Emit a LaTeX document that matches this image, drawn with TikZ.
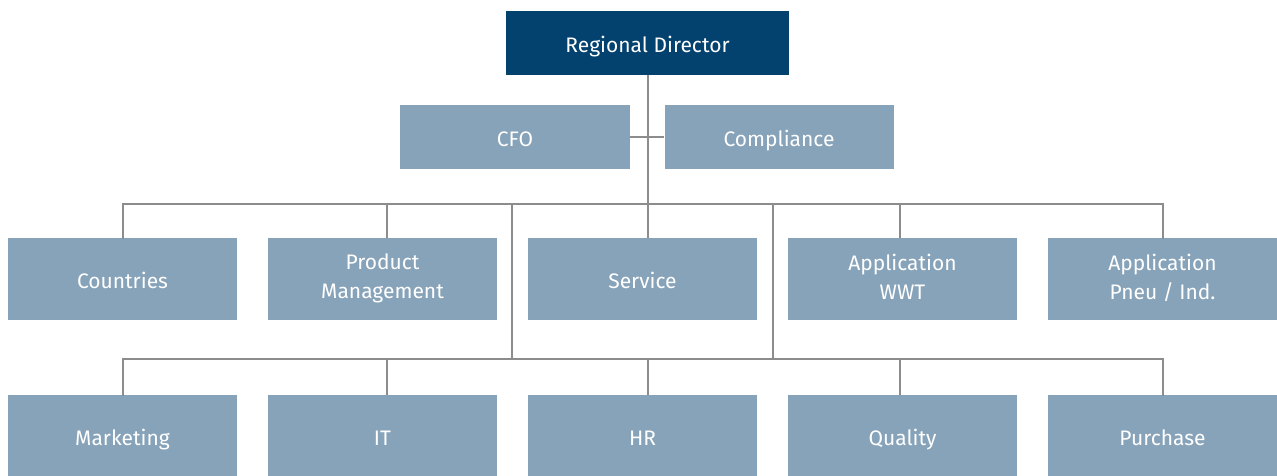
\documentclass[tikz,border=0pt]{standalone}
\usepackage{fontspec}
\setmainfont{Fira Sans}
\definecolor{rdblue}{HTML}{03416E}
\definecolor{boxblue}{HTML}{87A3B9}
\definecolor{linegray}{HTML}{8C8C8C}
\newcommand{\boxstrut}{\rule[-5pt]{0pt}{29pt}}
\begin{document}
\begin{tikzpicture}[x=1pt,y=-1pt,
  box/.style={fill=boxblue,text=white,inner sep=0pt,minimum width=229pt,minimum height=82pt,align=center,
    font=\fontsize{21}{29}\selectfont,execute at begin node=\boxstrut,execute at end node=\boxstrut},
  topbox/.style={box,fill=rdblue,minimum width=283pt,minimum height=64pt},
  midbox/.style={box,minimum height=64pt},
  conn/.style={draw=linegray,line width=2pt}]
\useasboundingbox (0,0) rectangle (1277,475);
% nodes
\node[topbox] (rd) at (647.5,43) {Regional Director};
\node[midbox,minimum width=230pt] (cfo) at (515,137) {CFO};
\node[midbox,minimum width=229pt] (comp) at (779,137) {Compliance};
\node[box] (countries) at (122.5,279) {Countries};
\node[box] (pm) at (382.5,279) {Product\\Management};
\node[box] (service) at (642.5,279) {Service};
\node[box] (wwt) at (902.5,279) {Application\\WWT};
\node[box] (pneu) at (1162.5,279) {Application\\Pneu / Ind.};
\node[box] (mkt) at (122.5,436) {Marketing};
\node[box] (it) at (382.5,436) {IT};
\node[box] (hr) at (642.5,436) {HR};
\node[box] (qual) at (902.5,436) {Quality};
\node[box] (purch) at (1162.5,436) {Purchase};
% bus coordinates
\coordinate (b1) at (648,204);
\coordinate (bl) at (512,204);
\coordinate (br) at (773,204);
\coordinate (b2l) at (512,359);
\coordinate (b2r) at (773,359);
% connectors
\draw[conn] ([xshift=0.5pt]rd.south) -- (b1);
\draw[conn] (cfo.east) -- (comp.west);
\draw[conn,line cap=rect] (countries.north) |- (b1) -| (pneu.north);
\draw[conn] ([xshift=4.5pt]pm.north) -- ([xshift=4.5pt]pm.north |- b1);
\draw[conn] ([xshift=5.5pt]service.north) -- ([xshift=5.5pt]service.north |- b1);
\draw[conn] ([xshift=-2.5pt]wwt.north) -- ([xshift=-2.5pt]wwt.north |- b1);
\draw[conn] (bl) -- (b2l);
\draw[conn] (br) -- (b2r);
\draw[conn,line cap=rect] (mkt.north) |- (b2l) -- (b2r) -| (purch.north);
\draw[conn] ([xshift=4.5pt]it.north) -- ([xshift=4.5pt]it.north |- b2l);
\draw[conn] ([xshift=5.5pt]hr.north) -- ([xshift=5.5pt]hr.north |- b2l);
\draw[conn] ([xshift=-2.5pt]qual.north) -- ([xshift=-2.5pt]qual.north |- b2l);
\end{tikzpicture}
\end{document}
